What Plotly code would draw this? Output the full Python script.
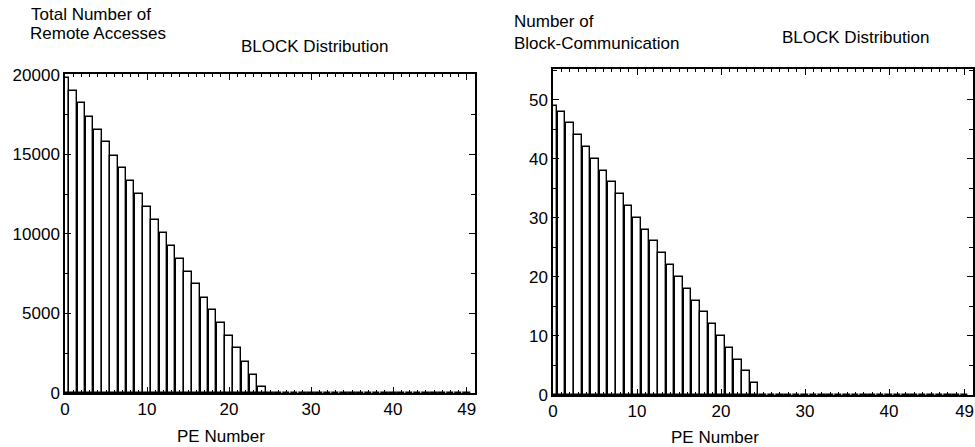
import plotly.graph_objects as go

W, H = 975, 447

pe = list(range(50))
remote_accesses = [19800, 19000, 18200, 17350, 16550, 15750, 14900, 14150, 13300, 12500,
                   11700, 10850, 10050, 9250, 8400, 7600, 6850, 6000, 5200, 4400,
                   3600, 2800, 1950, 1150, 350] + [0] * 25
block_comm = [49, 48, 46, 44, 42, 40, 38, 36, 34, 32,
              30, 28, 26, 24, 22, 20, 18, 16, 14, 12,
              10, 8, 6, 4, 2] + [0] * 25

x_tickvals = [0, 10, 20, 30, 40, 49]
x_ticktext = ["0", "10", "20", "30", "40", "49"]
left_yticks = [0, 5000, 10000, 15000, 20000]
left_yticktext = ["0", "5000", "10000", "15000", "20000"]
right_yticks = [0, 10, 20, 30, 40, 50]
right_yticktext = ["0", "10", "20", "30", "40", "50"]

FONT = "Liberation Sans, Arial, Helvetica, sans-serif"
FS = 17

def px_x(p):
    return p / W

def px_y(p):
    return 1 - p / H

fig = go.Figure()
bar_style = dict(marker=dict(color="white", line=dict(color="black", width=1.4)),
                 width=0.92, showlegend=False, hoverinfo="x+y")
fig.add_trace(go.Bar(x=pe, y=remote_accesses, xaxis="x", yaxis="y", **bar_style))
fig.add_trace(go.Bar(x=pe, y=block_comm, xaxis="x2", yaxis="y2", **bar_style))

axis_common = dict(showline=True, linecolor="black", linewidth=1.5, mirror="ticks",
                   ticks="inside", tickcolor="black", showgrid=False, zeroline=False,
                   automargin=False,
                   tickfont=dict(family=FONT, size=FS, color="black"))

xcommon = dict(axis_common, range=[0, 50], tickmode="array", tickvals=x_tickvals,
               ticktext=x_ticktext, ticklen=6,
               minor=dict(tick0=0, dtick=1, ticks="inside", ticklen=3, tickcolor="black"))

fig.update_layout(
    width=W, height=H,
    margin=dict(l=0, r=0, t=0, b=0, autoexpand=False),
    paper_bgcolor="white", plot_bgcolor="white",
    bargap=0,
    xaxis=dict(xcommon, domain=[px_x(65), px_x(475)], anchor="y"),
    yaxis=dict(axis_common, domain=[px_y(393), px_y(74)], anchor="x", range=[0, 20050],
               tickmode="array", tickvals=left_yticks, ticktext=left_yticktext, ticklen=6,
               minor=dict(tick0=0, dtick=2500, ticks="inside", ticklen=4, tickcolor="black")),
    xaxis2=dict(xcommon, domain=[px_x(553), px_x(973)], anchor="y2"),
    yaxis2=dict(axis_common, domain=[px_y(395), px_y(69)], anchor="x2", range=[0, 55.2],
                tickmode="array", tickvals=right_yticks, ticktext=right_yticktext, ticklen=6,
                minor=dict(tick0=0, dtick=5, ticks="inside", ticklen=4, tickcolor="black")),
)

def label(text, x, y, xanchor="left", size=FS):
    fig.add_annotation(text=text, x=px_x(x), y=px_y(y), xref="paper", yref="paper",
                       xanchor=xanchor, yanchor="middle", showarrow=False,
                       font=dict(family=FONT, size=size, color="black"))

label("Total Number of", 29, 15)
label("Remote Accesses", 28, 33)
label("BLOCK Distribution", 239, 46)
label("PE Number", 221, 436, xanchor="center")
label("Number of", 512, 21)
label("Block-Communication", 512, 43)
label("BLOCK Distribution", 780, 37)
label("PE Number", 715, 437, xanchor="center")

fig.write_html("out.html",
               config={"displayModeBar": False},
               post_script="document.body.style.margin='0';document.body.style.overflow='hidden';")
